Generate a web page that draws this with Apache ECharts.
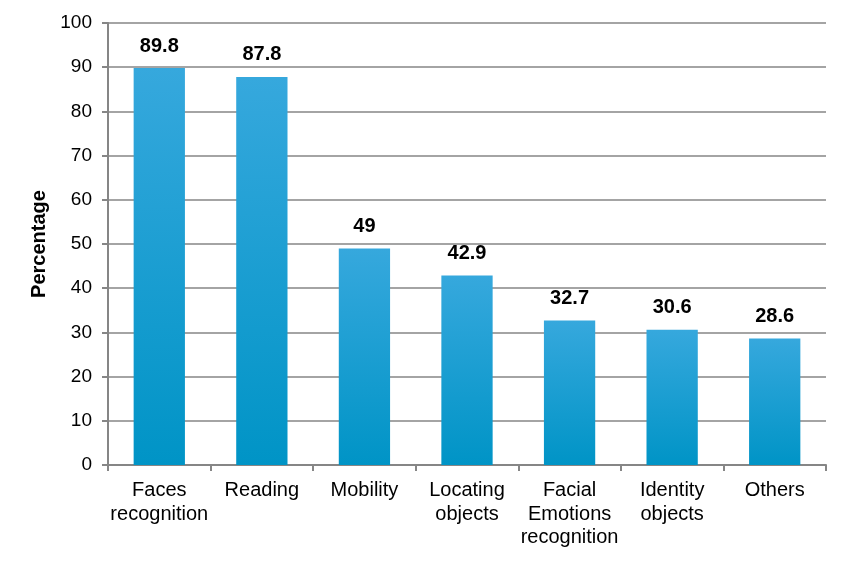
<!DOCTYPE html>
<html><head><meta charset="utf-8">
<script src="https://cdn.jsdelivr.net/npm/echarts@6/dist/echarts.min.js"></script>
<style>html,body{margin:0;padding:0;background:#fff}#c{width:846px;height:563px}</style>
</head><body><div id="c"></div>
<script>
var categories = ["Faces\nrecognition","Reading","Mobility","Locating\nobjects","Facial\nEmotions\nrecognition","Identity\nobjects","Others"];
var values = [89.8, 87.8, 49, 42.9, 32.7, 30.6, 28.6];
var yTitle = "Percentage";
var chart = echarts.init(document.getElementById('c'));
var font = "'Liberation Sans', Arial, sans-serif";
chart.setOption({
  animation:false,
  grid:{left:108,right:20,top:23,bottom:98,containLabel:false},
  xAxis:{type:'category',data:categories,
    axisLine:{lineStyle:{color:'#868686',width:2}},
    axisTick:{show:true,length:6,lineStyle:{color:'#868686',width:2},alignWithLabel:false},
    axisLabel:{color:'#000',fontSize:20,fontFamily:font,lineHeight:23.5,margin:14,interval:0}},
  yAxis:{type:'value',min:0,max:100,interval:10,
    name:yTitle,nameLocation:'middle',nameGap:59,
    nameTextStyle:{color:'#000',fontSize:20,fontWeight:'bold',fontFamily:font},
    axisLine:{show:true,lineStyle:{color:'#868686',width:2}},
    axisTick:{show:true,length:6,lineStyle:{color:'#868686',width:2}},
    splitLine:{lineStyle:{color:'#868686',width:1.5}},
    axisLabel:{color:'#000',fontSize:19,fontFamily:font,margin:16}},
  series:[{type:'bar',data:values,barWidth:'50%',
    itemStyle:{color:new echarts.graphic.LinearGradient(0,0,0,1,[{offset:0,color:'#36a8dd'},{offset:1,color:'#0094c6'}])},
    label:{show:true,position:'top',distance:12,color:'#000',fontSize:20,fontWeight:'bold',fontFamily:font}}]
});
</script></body></html>
